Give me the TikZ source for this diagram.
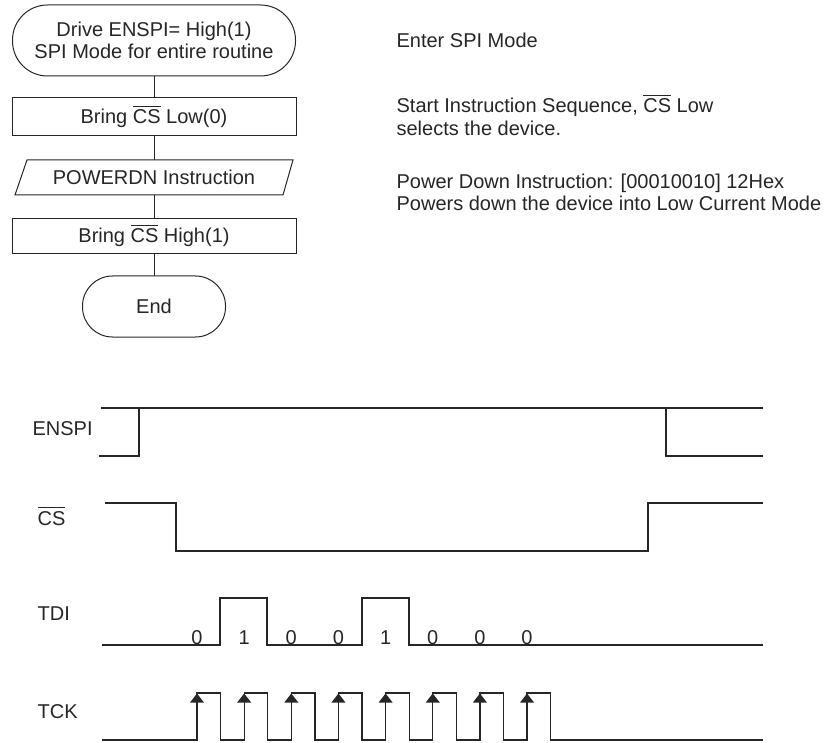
\documentclass[tikz,border=0pt]{standalone}
\usepackage{fontspec}
\setmainfont{Liberation Sans}
\newcommand\myovl[1]{\vbox{\hrule height 1pt\kern 3pt\hbox{#1}}}
\begin{document}
\begin{tikzpicture}[x=1pt,y=-1pt,
  line width=1.2pt, color=black!85,
  every node/.style={font=\fontsize{20}{22}\selectfont, text=black!85},
  flow/.style={draw, line width=1pt, outer sep=0pt, inner sep=0pt, align=center},
  term/.style={flow, rounded corners=#1},
  sig/.style={line width=1.2pt, line join=miter},
  lbl/.style={anchor=base west, inner sep=0pt},
  bit/.style={anchor=base, inner sep=0pt},
  note/.style={anchor=base west, inner sep=0pt}]
\useasboundingbox (0,0) rectangle (827,743);

% ---------- flowchart ----------
\node[term=35pt, minimum width=283pt, minimum height=71pt] (start) at (154,40.5)
  {Drive ENSPI= High(1)\\SPI Mode for entire routine};
\node[flow, minimum width=284pt, minimum height=38pt] (b1) at (154,117)
  {Bring \myovl{CS} Low(0)};
\node[inner sep=0pt, outer sep=0pt, minimum width=266pt, minimum height=35pt] (io) at (154,177.5)
  {POWERDN Instruction};
\draw[line width=1pt, line join=miter] (15,195) -- (27,160) -- (293,160) -- (283,195) -- cycle;
\node[flow, minimum width=284pt, minimum height=35pt] (b3) at (154,235.7)
  {Bring \myovl{CS} High(1)};
\node[term=30pt, minimum width=143pt, minimum height=61pt] (end) at (154,306.5) {End};

\draw[line width=1pt] (start) -- (b1);
\draw[line width=1pt] (b1) -- (io);
\draw[line width=1pt] (io) -- (b3);
\draw[line width=1pt] (b3) -- (end);

% ---------- notes ----------
\node[note] (n1) at (396,48) {Enter SPI Mode};
\node[note] (n2a) at (396,113) {Start Instruction Sequence, \myovl{CS} Low};
\node[note] (n2b) at (396,136) {selects the device.};
\node[note] (n3a) at (396,188.5) {Power Down Instruction: [00010010] 12Hex};
\node[note] (n3b) at (396,210.5) {Powers down the device into Low Current Mode};

% ---------- timing labels ----------
\node[lbl] (lenspi) at (32,435) {ENSPI};
\node[lbl] (lcs) at (37,525) {\myovl{CS}};
\node[lbl] (ltdi) at (37,620) {TDI};
\node[lbl] (ltck) at (37,718) {TCK};

% ---------- waveforms ----------
% ENSPI
\draw[sig] (99,456) -- (139,456) -- (139,408);
\draw[sig] (101,408) -- (763,408);
\draw[sig] (666,408) -- (666,456) -- (763,456);
% CS
\draw[sig] (105,503) -- (176,503) -- (176,551) -- (648,551) -- (648,503) -- (763,503);
% TDI
\draw[sig] (102,645) -- (220,645) -- (220,598) -- (267,598) -- (267,645) -- (362,645)
  -- (362,598) -- (409,598) -- (409,645) -- (763,645);
\foreach \bv [count=\i from 0] in {0,1,0,0,1,0,0,0}
  \node[bit] (bit\i) at ({197+47.15*\i},644) {\bv};
% TCK
\draw[sig] (102,740)
  \foreach \k in {0,...,7} {
    -- ({197+47.15*\k},740) -- ({197+47.15*\k},693)
    -- ({220.6+47.15*\k},693) -- ({220.6+47.15*\k},740) }
  -- (763,740);
\foreach \k in {0,...,7}
  \fill ({197+47.15*\k},693.5) -- ++(-7,9) -- ++(14,0) -- cycle;
\end{tikzpicture}
\end{document}
